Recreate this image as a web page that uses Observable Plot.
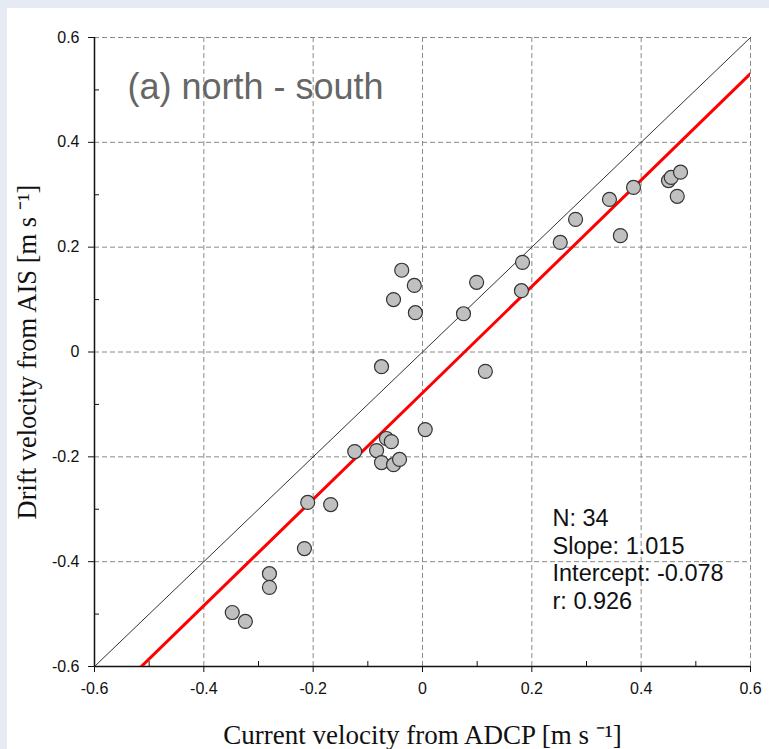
<!DOCTYPE html>
<html><head><meta charset="utf-8">
<script src="https://cdn.jsdelivr.net/npm/d3@7"></script>
<script src="https://cdn.jsdelivr.net/npm/@observablehq/plot@0.6"></script>
<style>
html,body{margin:0;padding:0;background:#e6eaf2;width:769px;height:749px;overflow:hidden}
#card{position:absolute;left:7px;top:8px;width:762px;height:741px;background:#fff}
</style></head><body><div id="card"></div><script>
// Current velocity from ADCP (x) and drift velocity from AIS (y), m/s
const adcp = [-0.348,-0.324,-0.280,-0.280,-0.216,-0.210,-0.168,-0.124,-0.084,-0.075,-0.066,-0.057,-0.053,-0.042,0.005,
  -0.075,-0.053,-0.038,-0.015,-0.013,0.075,0.099,0.115,0.183,0.181,0.252,0.280,0.342,0.362,0.386,0.450,0.455,0.472,0.466];
const ais = [-0.497,-0.514,-0.423,-0.449,-0.375,-0.287,-0.291,-0.190,-0.188,-0.211,-0.165,-0.171,-0.215,-0.205,-0.148,
  -0.028,0.100,0.156,0.127,0.075,0.073,0.133,-0.037,0.171,0.117,0.209,0.253,0.291,0.222,0.314,0.327,0.333,0.343,0.297];
const majorTicks = [-0.6,-0.4,-0.2,0,0.2,0.4,0.6];
const minorTicks = [-0.5,-0.3,-0.1,0.1,0.3,0.5];
const tickLabels = ["-0.6","-0.4","-0.2","0","0.2","0.4","0.6"];
const identityLine = [-0.6, 0.6];
const fitSlope = 1.015, fitIntercept = -0.078;
const statsLines = ["N: 34","Slope: 1.015","Intercept: -0.078","r: 0.926"];
const titleText = "(a) north - south";
const xLabel = "Current velocity from ADCP [m s \u207B\u00B9]";
const yLabel = "Drift velocity from AIS [m s \u207B\u00B9]";

const points = adcp.map((x,i)=>({x, y: ais[i]}));
const fmt = d => tickLabels[majorTicks.indexOf(d)];
const W = 762, H = 741, mL = 87, mR = 19, mT = 29, mB = 83;
const pw = W - mL - mR, ph = H - mT - mB;
const serif = "'Liberation Serif', 'Times New Roman', serif";

const chart = Plot.plot({
  width: W, height: H,
  marginLeft: mL, marginRight: mR, marginTop: mT, marginBottom: mB,
  x: {domain: [-0.6, 0.6]},
  y: {domain: [-0.6, 0.6]},
  style: {fontFamily: "'Liberation Sans', Arial, sans-serif", fontSize: "16px", color: "#111", background: "transparent", overflow: "visible"},
  marks: [
    Plot.gridX(majorTicks, {stroke: "#8a8a8a", strokeOpacity: 1, strokeDasharray: "5,3"}),
    Plot.gridY(majorTicks, {stroke: "#8a8a8a", strokeOpacity: 1, strokeDasharray: "5,3"}),
    Plot.tickX(minorTicks, {x: d => d, insetTop: ph - 5, stroke: "#111"}),
    Plot.tickY(minorTicks, {y: d => d, insetRight: pw - 5, stroke: "#111"}),
    Plot.ruleX([-0.6], {stroke: "#111", strokeWidth: 1.5}),
    Plot.ruleY([-0.6], {stroke: "#111", strokeWidth: 1.5}),
    Plot.axisX(majorTicks, {tickSize: 6, tickPadding: 10, tickFormat: fmt, label: null, fontSize: 16, stroke: "#111"}),
    Plot.axisY(majorTicks, {tickSize: 6, tickPadding: 9, tickFormat: fmt, label: null, fontSize: 16, stroke: "#111"}),
    Plot.line(identityLine, {x: d => d, y: d => d, stroke: "#333", strokeWidth: 1}),
    Plot.line(identityLine, {x: d => d, y: d => fitIntercept + fitSlope * d, stroke: "#ff0000", strokeWidth: 3, clip: true}),
    Plot.dot(points, {x: "x", y: "y", r: 7, fill: "#c0c0c0", stroke: "#333", strokeWidth: 1.2}),
    Plot.text([titleText], {frameAnchor: "top-left", dx: 33, dy: 50, text: d => d, textAnchor: "start", lineAnchor: "middle", fontSize: 36, fill: "#666"}),
    Plot.text([statsLines.join("\n")], {frameAnchor: "top-left", dx: 458, dy: 469, text: d => d, textAnchor: "start", lineAnchor: "top", fontSize: 23.5, lineHeight: 1.17, fill: "#111"}),
    Plot.text([xLabel], {frameAnchor: "bottom", dy: 69, text: d => d, textAnchor: "middle", lineAnchor: "middle", fontSize: 27, fontFamily: serif, fill: "#111"}),
    Plot.text([yLabel], {frameAnchor: "left", dx: -67, rotate: -90, text: d => d, textAnchor: "middle", lineAnchor: "middle", fontSize: 26.5, fontFamily: serif, fill: "#111"})
  ]
});
document.getElementById("card").appendChild(chart);
</script></body></html>
